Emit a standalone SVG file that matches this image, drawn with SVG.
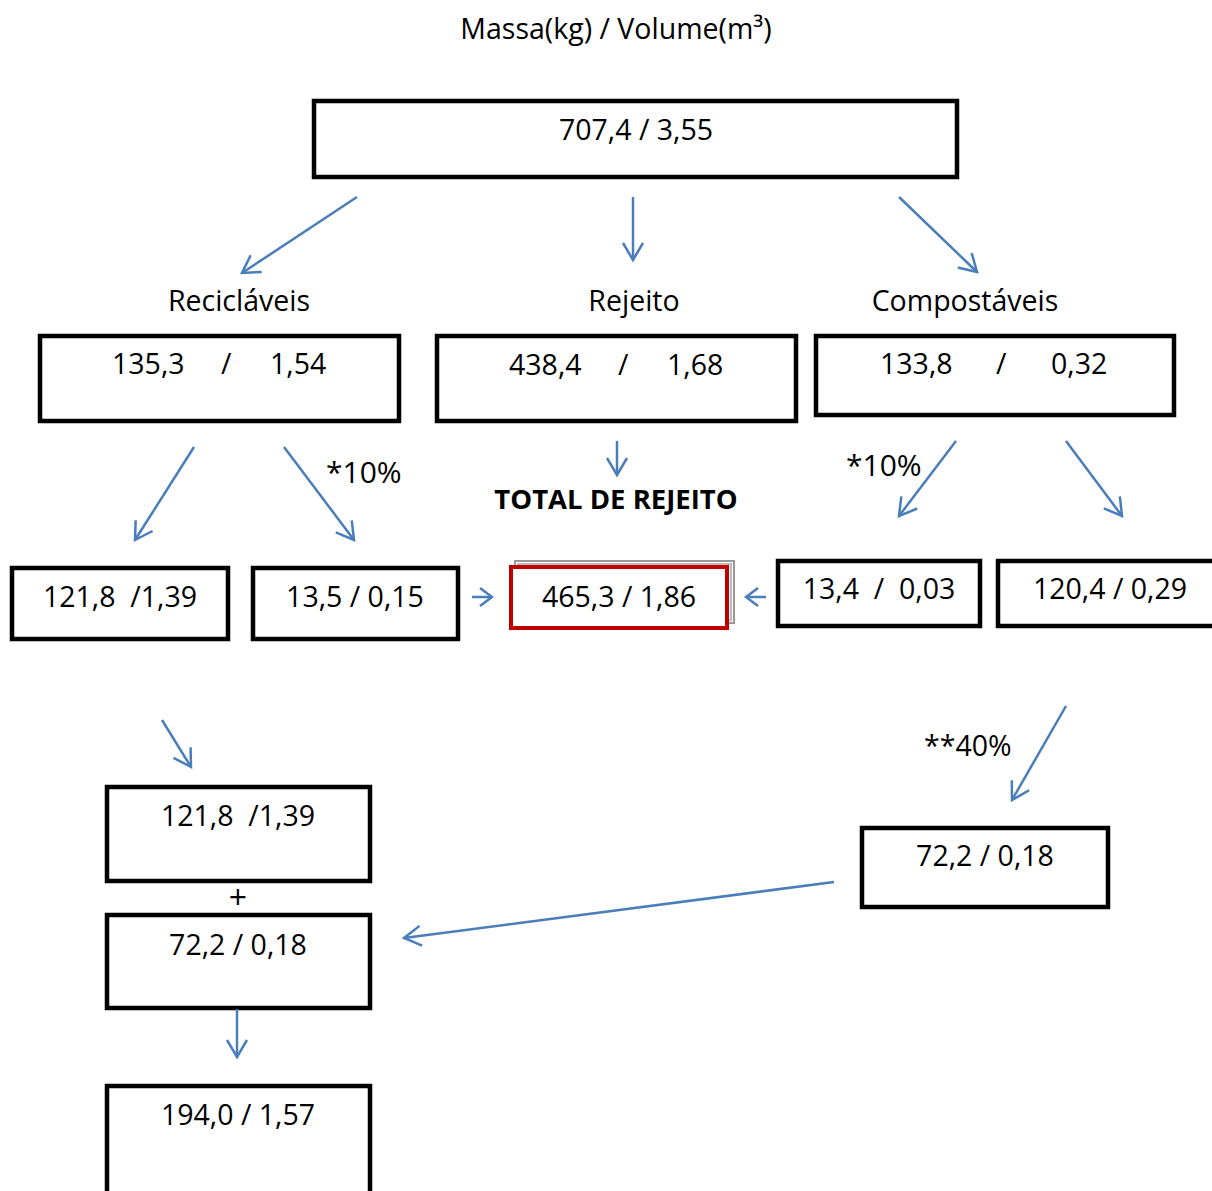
<svg xmlns="http://www.w3.org/2000/svg" width="1212" height="1191" viewBox="0 0 1212 1191">
<style>
.box{fill:#fff;stroke:#000;stroke-width:4.5}
.t{font-family:"Open Sans","Liberation Sans",sans-serif;font-size:28.5px;fill:#000}
.c{text-anchor:middle}
.b{font-weight:bold;font-size:27.5px}
.p{font-size:30px}
.con line,.con path{stroke:#4a7ebb;stroke-width:2.5;fill:none}
</style>
<defs>
<marker id="ah" viewBox="0 0 24 24" markerWidth="24" markerHeight="24" markerUnits="userSpaceOnUse" refX="21" refY="12" orient="auto">
<path d="M4,2 L21,12 L4,22" fill="none" stroke="#4a7ebb" stroke-width="2.5"/>
</marker>
</defs>
<rect width="1212" height="1191" fill="#fff"/>
<text class="t c" x="616" y="39">Massa(kg) / Volume(m³)</text>

<g id="top"><rect class="box" x="314" y="101" width="643" height="76"/><text class="t c" x="636" y="140">707,4 / 3,55</text></g>

<text class="t c" x="239" y="311">Recicláveis</text>
<text class="t c" x="634" y="311">Rejeito</text>
<text class="t c" x="965" y="311">Compostáveis</text>

<g id="reciclaveis"><rect class="box" x="40" y="336" width="359" height="85"/><text class="t" x="112" y="374">135,3</text><text class="t" x="221" y="374">/</text><text class="t" x="270" y="374">1,54</text></g>
<g id="rejeito"><rect class="box" x="437" y="336" width="359" height="85"/><text class="t" x="509" y="375">438,4</text><text class="t" x="618" y="375">/</text><text class="t" x="667" y="375">1,68</text></g>
<g id="compostaveis"><rect class="box" x="816" y="336" width="358" height="79"/><text class="t" x="880" y="374">133,8</text><text class="t" x="996" y="374">/</text><text class="t" x="1051" y="374">0,32</text></g>

<text class="t p" x="326" y="483">*10%</text>
<text class="t p" x="846" y="476">*10%</text>
<text class="t c b" x="616" y="509">TOTAL DE REJEITO</text>

<g id="rec1"><rect class="box" x="12" y="568" width="216" height="71"/><text class="t c" x="120" y="607" xml:space="preserve">121,8  /1,39</text></g>
<g id="rec2"><rect class="box" x="253" y="568" width="205" height="71"/><text class="t c" x="355" y="607">13,5 / 0,15</text></g>
<g id="total">
<rect x="515" y="561" width="219" height="62" fill="none" stroke="#999" stroke-width="2"/>
<rect x="518" y="564" width="213" height="56" fill="none" stroke="#bbb" stroke-width="2"/>
<rect x="511" y="567" width="216" height="61" fill="#fff" stroke="#c00000" stroke-width="4"/>
<text class="t c" x="619" y="607">465,3 / 1,86</text></g>
<g id="comp1"><rect class="box" x="778" y="561" width="202" height="65"/><text class="t c" x="879" y="599" xml:space="preserve">13,4  /  0,03</text></g>
<g id="comp2"><rect class="box" x="998" y="561" width="220" height="65"/><text class="t c" x="1110" y="599">120,4 / 0,29</text></g>

<text class="t" x="924" y="756">**40%</text>

<g id="sum1"><rect class="box" x="107" y="787" width="263" height="94"/><text class="t c" x="238" y="826" xml:space="preserve">121,8  /1,39</text></g>
<text class="t c" x="238" y="909" style="font-size:32px">+</text>
<g id="sum2"><rect class="box" x="107" y="915" width="263" height="93"/><text class="t c" x="238" y="955">72,2 / 0,18</text></g>
<g id="result"><rect class="box" x="107" y="1086" width="263" height="110"/><text class="t c" x="238" y="1125">194,0 / 1,57</text></g>
<g id="comp40"><rect class="box" x="862" y="828" width="246" height="79"/><text class="t c" x="985" y="866">72,2 / 0,18</text></g>

<g class="con">
<line x1="357" y1="197" x2="242" y2="273" marker-end="url(#ah)"/>
<line x1="633" y1="197" x2="633" y2="260" marker-end="url(#ah)"/>
<line x1="899" y1="197" x2="977" y2="272" marker-end="url(#ah)"/>
<line x1="194" y1="447" x2="135" y2="540" marker-end="url(#ah)"/>
<line x1="284" y1="447" x2="354" y2="540" marker-end="url(#ah)"/>
<line x1="617" y1="441" x2="617" y2="475" marker-end="url(#ah)"/>
<line x1="956" y1="441" x2="899" y2="516" marker-end="url(#ah)"/>
<line x1="1066" y1="441" x2="1122" y2="516" marker-end="url(#ah)"/>
<line x1="472" y1="597" x2="492" y2="597"/>
<path d="M480,588 L492,597 L480,606"/>
<line x1="766" y1="597" x2="746" y2="597"/>
<path d="M758,588 L746,597 L758,606"/>
<line x1="162" y1="720" x2="191" y2="767" marker-end="url(#ah)"/>
<line x1="1066" y1="706" x2="1012" y2="800" marker-end="url(#ah)"/>
<line x1="237" y1="1009" x2="237" y2="1057" marker-end="url(#ah)"/>
<line x1="834" y1="882" x2="404" y2="938" marker-end="url(#ah)"/>
</g>
</svg>
